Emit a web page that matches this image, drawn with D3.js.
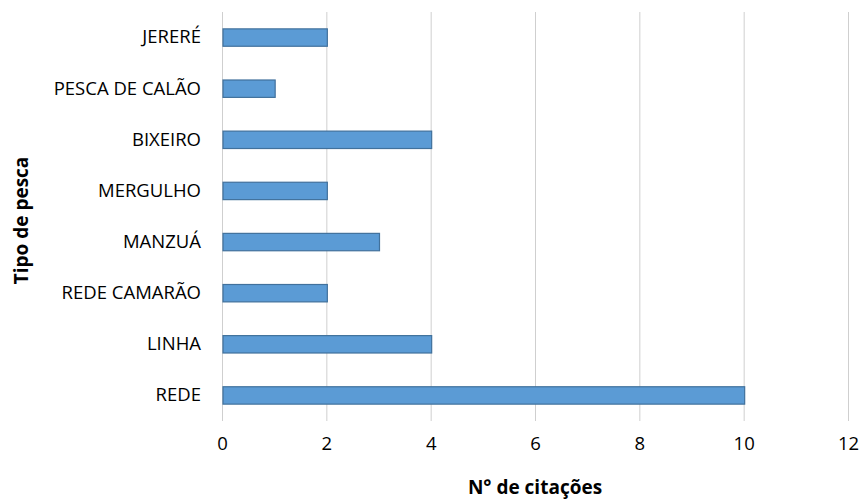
<!DOCTYPE html>
<html>
<head>
<meta charset="utf-8">
<script src="https://cdn.jsdelivr.net/npm/d3@7"></script>
<style>
  body { margin: 0; background: #fff; }
  text { font-family: "Open Sans", "DejaVu Sans", sans-serif; fill: #000; }
</style>
</head>
<body>
<div id="chart"></div>
<script>
// Tipos de pesca (top to bottom) and number of citations
const categories = ["JERERÉ", "PESCA DE CALÃO", "BIXEIRO", "MERGULHO", "MANZUÁ", "REDE CAMARÃO", "LINHA", "REDE"];
const values = [2, 1, 4, 2, 3, 2, 4, 10];
const xTicks = [0, 2, 4, 6, 8, 10, 12];

const W = 859, H = 501;
const margin = { top: 12, right: 11, bottom: 80, left: 222 },
      width = W - margin.left - margin.right,
      height = H - margin.top - margin.bottom;

const svg = d3.select("#chart")
  .append("svg")
  .attr("width", W)
  .attr("height", H);

const g = svg.append("g")
  .attr("transform", `translate(${margin.left},${margin.top})`);

// Scales
const x = d3.scaleLinear().domain([0, 12]).range([0, width]);
const y = d3.scaleBand().domain(categories).range([0, height]).paddingInner(0.66).paddingOuter(0.33);

// Vertical gridlines
g.selectAll("line.grid")
  .data(xTicks)
  .enter()
  .append("line")
  .attr("class", "grid")
  .attr("x1", d => x(d) + 0.5)
  .attr("x2", d => x(d) + 0.5)
  .attr("y1", 0)
  .attr("y2", height)
  .attr("stroke", "#cfcfcf")
  .attr("stroke-width", 1);

// Bars
const data = categories.map((c, i) => ({ cat: c, val: values[i] }));
g.selectAll("rect.bar")
  .data(data)
  .enter()
  .append("rect")
  .attr("class", "bar")
  .attr("x", x(0) + 1)
  .attr("y", d => y(d.cat))
  .attr("width", d => x(d.val) - x(0))
  .attr("height", y.bandwidth())
  .attr("fill", "#5b9bd5")
  .attr("stroke", "#41719c")
  .attr("stroke-width", 1.2);

// Category labels
const yAxis = g.append("g").call(d3.axisLeft(y).tickSize(0).tickPadding(21));
yAxis.select(".domain").remove();
yAxis.selectAll("text")
  .style("font-size", "18.5px")
  .style("font-family", "'Open Sans', sans-serif")
  .attr("fill", "#000");

// X tick labels
const xAxis = g.append("g")
  .attr("transform", `translate(0,${height})`)
  .call(d3.axisBottom(x).tickValues(xTicks).tickSize(0).tickPadding(16));
xAxis.select(".domain").remove();
xAxis.selectAll("text")
  .style("font-size", "18.5px")
  .style("font-family", "'Open Sans', sans-serif")
  .attr("fill", "#000");

// Axis titles
svg.append("text")
  .attr("x", margin.left + width / 2)
  .attr("y", 494)
  .attr("text-anchor", "middle")
  .style("font-size", "19px")
  .style("font-weight", "bold")
  .text("N° de citações");

svg.append("text")
  .attr("transform", `translate(28,${margin.top + height / 2 + 4}) rotate(-90)`)
  .attr("text-anchor", "middle")
  .style("font-size", "19px")
  .style("font-weight", "bold")
  .text("Tipo de pesca");
</script>
</body>
</html>
